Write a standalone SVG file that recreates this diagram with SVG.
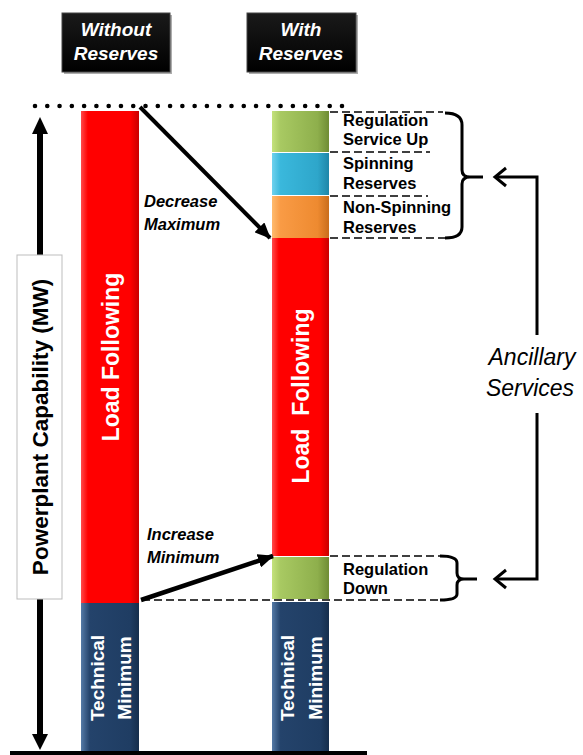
<svg xmlns="http://www.w3.org/2000/svg" width="583" height="755" viewBox="0 0 583 755">
<style>
.hdr{font-family:"Liberation Sans",Arial,sans-serif;font-weight:bold;font-style:italic;font-size:19px;fill:#fff;text-anchor:middle}
.lbl{font-family:"Liberation Sans",Arial,sans-serif;font-weight:bold;font-size:16.5px;fill:#000}
.ital{font-family:"Liberation Sans",Arial,sans-serif;font-weight:bold;font-style:italic;font-size:16.5px;fill:#000}
.vert{font-family:"Liberation Sans",Arial,sans-serif;font-weight:bold;font-size:23px;fill:#fff;text-anchor:middle}
.tech{font-family:"Liberation Sans",Arial,sans-serif;font-weight:bold;font-size:19px;fill:#fff;text-anchor:middle}
.dash{stroke:#000;stroke-width:1.5;stroke-dasharray:8 4;fill:none}
.brace{stroke:#000;stroke-width:3;fill:none;stroke-linejoin:round}
.conn{stroke:#000;stroke-width:3;fill:none}
</style>
<defs>
<linearGradient id="gRed" x1="0" x2="1" y1="0" y2="0">
<stop offset="0" stop-color="#ff4a4a"/><stop offset="0.12" stop-color="#ff0000"/><stop offset="0.85" stop-color="#ff0000"/><stop offset="1" stop-color="#c80000"/>
</linearGradient>
<linearGradient id="gGreen" x1="0" x2="1" y1="0" y2="0">
<stop offset="0" stop-color="#c4e27c"/><stop offset="0.15" stop-color="#a8c962"/><stop offset="0.8" stop-color="#8eaf4c"/><stop offset="1" stop-color="#6f8c34"/>
</linearGradient>
<linearGradient id="gCyan" x1="0" x2="1" y1="0" y2="0">
<stop offset="0" stop-color="#6fd2ee"/><stop offset="0.15" stop-color="#3ab8dc"/><stop offset="0.8" stop-color="#2ea6ca"/><stop offset="1" stop-color="#1f86a8"/>
</linearGradient>
<linearGradient id="gOrange" x1="0" x2="1" y1="0" y2="0">
<stop offset="0" stop-color="#ffbb6e"/><stop offset="0.15" stop-color="#f99b45"/><stop offset="0.8" stop-color="#ee8a30"/><stop offset="1" stop-color="#c96d1c"/>
</linearGradient>
<linearGradient id="gNavy" x1="0" x2="1" y1="0" y2="0">
<stop offset="0" stop-color="#557aa6"/><stop offset="0.15" stop-color="#24436b"/><stop offset="0.85" stop-color="#1f3d63"/><stop offset="1" stop-color="#162e4c"/>
</linearGradient>
<linearGradient id="gBlack" x1="0" x2="0" y1="0" y2="1">
<stop offset="0" stop-color="#1a1a1a"/><stop offset="1" stop-color="#000"/>
</linearGradient>
<marker id="ah" markerUnits="userSpaceOnUse" markerWidth="16" markerHeight="14" refX="15" refY="7" orient="auto">
<path d="M0,0 L16,7 L0,14 Z" fill="#000"/>
</marker>
</defs>

<g id="header-without">
<rect x="64" y="15" width="108" height="59" fill="#777" opacity="0.6"/>
<rect x="62" y="13" width="108" height="59" fill="url(#gBlack)" stroke="#444" stroke-width="1"/>
<text class="hdr" x="116" y="36">Without</text>
<text class="hdr" x="116" y="60">Reserves</text>
</g>
<g id="header-with">
<rect x="249" y="15" width="109" height="59" fill="#777" opacity="0.6"/>
<rect x="247" y="13" width="109" height="59" fill="url(#gBlack)" stroke="#444" stroke-width="1"/>
<text class="hdr" x="301" y="36">With</text>
<text class="hdr" x="301" y="60">Reserves</text>
</g>

<g id="max-line">
<line x1="35" y1="106" x2="342" y2="106" stroke="#000" stroke-width="4.6" stroke-linecap="round" stroke-dasharray="0 12.28"/>
</g>

<g id="axis">
<line x1="40" y1="130" x2="40" y2="738" stroke="#000" stroke-width="6"/>
<polygon points="40,117 32,134 48,134" fill="#000"/>
<polygon points="40,750 32,734 48,734" fill="#000"/>
<rect x="17" y="255" width="45" height="344" fill="#fff" stroke="#bdbdbd" stroke-width="1"/>
<text x="0" y="0" transform="translate(48,427) rotate(-90)" font-family="Liberation Sans, Arial, sans-serif" font-weight="bold" font-size="22.5" fill="#000" text-anchor="middle">Powerplant Capability (MW)</text>
</g>

<g id="baseline">
<rect x="10" y="751" width="357" height="4" fill="#000"/>
</g>

<g id="bar-without">
<rect id="lf-without" x="81" y="111" width="58" height="492" fill="url(#gRed)"/>
<text class="vert" transform="translate(119,357) rotate(-90)">Load Following</text>
<rect id="tm-without" x="81" y="603" width="58" height="148" fill="url(#gNavy)"/>
<text class="tech" transform="translate(104,678) rotate(-90)">Technical</text>
<text class="tech" transform="translate(131,678) rotate(-90)">Minimum</text>
</g>

<g id="bar-with">
<rect id="reg-up" x="272" y="111" width="57" height="41" fill="url(#gGreen)"/>
<rect id="spin" x="272" y="153" width="57" height="42" fill="url(#gCyan)"/>
<rect id="nonspin" x="272" y="196" width="57" height="42" fill="url(#gOrange)"/>
<rect id="lf-with" x="272" y="238" width="57" height="318" fill="url(#gRed)"/>
<text class="vert" transform="translate(309,396) rotate(-90)" xml:space="preserve">Load  Following</text>
<rect id="reg-down" x="272" y="557" width="57" height="42" fill="url(#gGreen)"/>
<rect id="tm-with" x="272" y="602" width="57" height="149" fill="url(#gNavy)"/>
<text class="tech" transform="translate(294,678) rotate(-90)">Technical</text>
<text class="tech" transform="translate(322,678) rotate(-90)">Minimum</text>
</g>

<g id="labels">
<text class="lbl" x="343" y="126">Regulation</text>
<text class="lbl" x="343" y="145">Service Up</text>
<text class="lbl" x="343" y="169">Spinning</text>
<text class="lbl" x="343" y="189">Reserves</text>
<text class="lbl" x="343" y="213">Non-Spinning</text>
<text class="lbl" x="343" y="233">Reserves</text>
<text class="lbl" x="343" y="575">Regulation</text>
<text class="lbl" x="343" y="594">Down</text>
<text class="ital" x="144" y="207">Decrease</text>
<text class="ital" x="144" y="230">Maximum</text>
<text class="ital" x="147" y="540">Increase</text>
<text class="ital" x="147" y="563">Minimum</text>
</g>

<g id="ancillary">
<text x="532" y="365" font-family="Liberation Sans, Arial, sans-serif" font-style="italic" font-size="23" fill="#000" text-anchor="middle">Ancillary</text>
<text x="530" y="396" font-family="Liberation Sans, Arial, sans-serif" font-style="italic" font-size="23" fill="#000" text-anchor="middle">Services</text>
</g>

<g id="connectors">
<line class="dash" x1="330" y1="112" x2="443" y2="112"/>
<line class="dash" x1="330" y1="152" x2="430" y2="152"/>
<line class="dash" x1="330" y1="196" x2="428" y2="196"/>
<line class="dash" x1="330" y1="238" x2="445" y2="238"/>
<line class="dash" x1="330" y1="556" x2="440" y2="556"/>
<line class="dash" x1="142" y1="600" x2="440" y2="600"/>
<path class="brace" d="M445,113 Q462,113 462,125 L462,170 Q462,177 470,177 L483,177 M470,177 Q462,177 462,184 L462,227 Q462,238 445,238"/>
<path class="brace" stroke-width="2.5" d="M440,556 Q457,556 457,563 L457,573 Q457,579 464,579 L477,579 M464,579 Q457,579 457,585 L457,594 Q457,600 440,600"/>
<line x1="140" y1="107" x2="270" y2="238" stroke="#000" stroke-width="4" marker-end="url(#ah)"/>
<line x1="141" y1="600" x2="273" y2="556" stroke="#000" stroke-width="4.5" marker-end="url(#ah)"/>
<path class="conn" d="M537,335 L537,177 L495,177"/>
<path class="conn" d="M506,168 L495,177 L506,186"/>
<path class="conn" d="M537,413 L537,579 L495,579"/>
<path class="conn" d="M506,570 L495,579 L506,588"/>
</g>
</svg>
